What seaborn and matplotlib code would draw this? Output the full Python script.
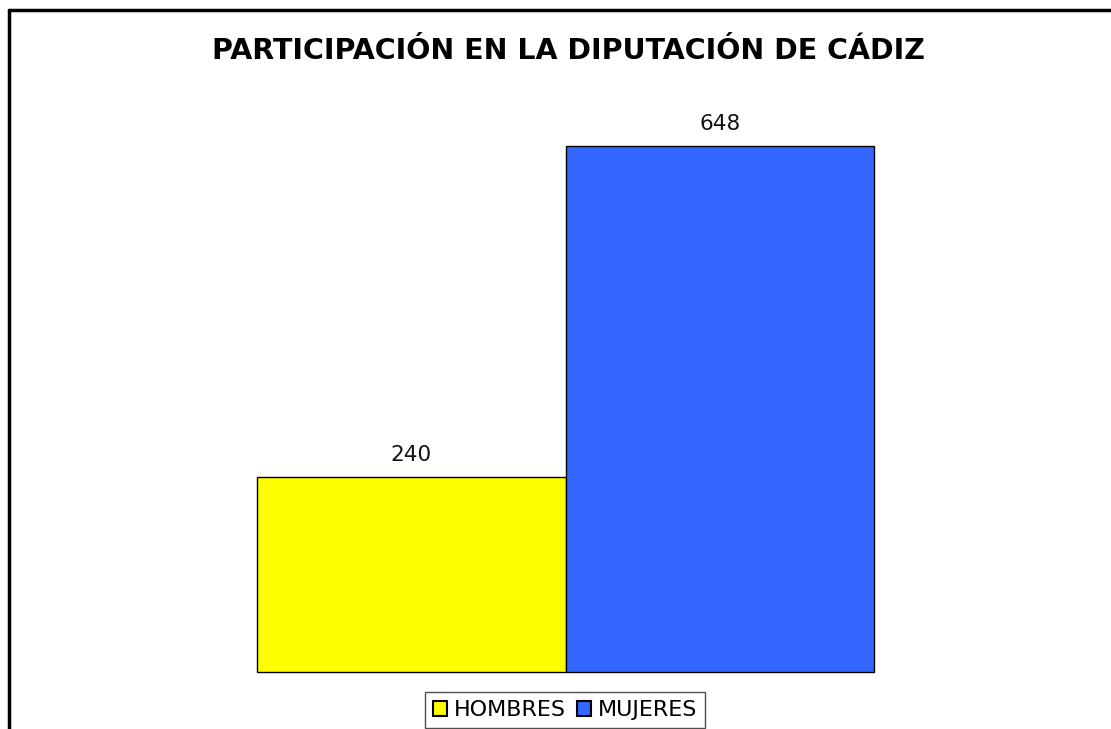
import matplotlib
matplotlib.use("Agg")
import matplotlib.pyplot as plt
import matplotlib.patches as mpatches
from matplotlib.lines import Line2D
import seaborn as sns

categorias = ["HOMBRES", "MUJERES"]
valores = [240, 648]
colores = ["#FFFF00", "#3366FF"]

sns.set_theme(style="white")
plt.rcParams["font.family"] = ["DejaVu Sans"]

W, H = 1111, 729
fig = plt.figure(figsize=(W / 100, H / 100), dpi=100)

# plot area placed in pixel terms
left, right, bottom, top = 257, 874, 672, 100
ax = fig.add_axes([left / W, (H - bottom) / H, (right - left) / W, (bottom - top) / H])

sns.barplot(x=categorias, y=valores, hue=categorias, palette=colores, saturation=1,
            width=1.0, edgecolor="black", linewidth=1.0, legend=False, ax=ax)
ax.set_xlim(-0.5, 1.5)
ax.set_ylim(0, 648 * (bottom - top) / (bottom - 146))
ax.axis("off")
for p in ax.patches:
    p.set_clip_on(False)

for c in ax.containers:
    ax.bar_label(c, fmt="%d", padding=9, fontsize=15.5, color="#111111")

# outer frame (only left and top visible in the crop)
fig.add_artist(Line2D([9 / W, 9 / W], [0, 1 - 9.5 / H], color="black", lw=2.5,
                      transform=fig.transFigure))
fig.add_artist(Line2D([9 / W, 1], [1 - 9.5 / H, 1 - 9.5 / H], color="black", lw=2.5,
                      transform=fig.transFigure))

fig.text(568 / W, 1 - 51 / H, "PARTICIPACIÓN EN LA DIPUTACIÓN DE CÁDIZ",
         ha="center", va="center", fontsize=20.5, fontweight="bold", color="black")

handles = [mpatches.Patch(facecolor=col, edgecolor="black", linewidth=1.5, label=cat)
           for cat, col in zip(categorias, colores)]
leg = fig.legend(handles=handles, loc="center", bbox_to_anchor=(565 / W, 1 - 710 / H),
                 ncol=2, frameon=True, fancybox=False, edgecolor="#222222", fontsize=16,
                 handlelength=0.65, handleheight=0.65, handletextpad=0.3, columnspacing=0.5,
                 borderpad=0.35, borderaxespad=0, labelcolor="black")
leg.get_frame().set_linewidth(1.0)

fig.savefig("out.png", dpi=100)
